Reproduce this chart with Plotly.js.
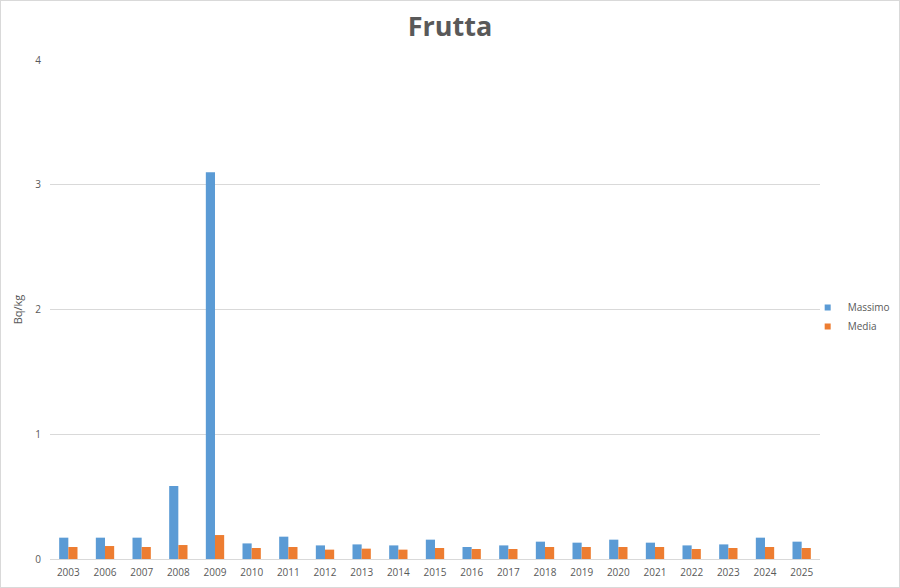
<!DOCTYPE html>
<html>
<head>
<meta charset="utf-8">
<script src="https://cdn.plot.ly/plotly-3.0.1.min.js"></script>
<style>
html,body{margin:0;padding:0;background:#fff;}
#chart{width:900px;height:588px;}
#frame{position:fixed;left:0;top:0;width:898px;height:586px;border:1px solid #d9d9d9;pointer-events:none;}
</style>
</head>
<body>
<div id="chart"></div>
<div id="frame"></div>
<script>
const years = ["2003","2006","2007","2008","2009","2010","2011","2012","2013","2014","2015","2016","2017","2018","2019","2020","2021","2022","2023","2024","2025"];
const massimo = [0.171,0.171,0.171,0.585,3.10,0.125,0.179,0.109,0.117,0.109,0.155,0.096,0.109,0.139,0.131,0.155,0.131,0.109,0.117,0.171,0.139];
const media = [0.096,0.104,0.096,0.112,0.192,0.088,0.096,0.075,0.083,0.075,0.088,0.080,0.080,0.096,0.096,0.096,0.096,0.080,0.088,0.096,0.088];
const seriesNames = ["Massimo","Media"];
const seriesColors = ["#5B9BD5","#ED7D31"];

const data = [
  {type:'bar', name:seriesNames[0], x:years, y:massimo, marker:{color:seriesColors[0]}, showlegend:false},
  {type:'bar', name:seriesNames[1], x:years, y:media, marker:{color:seriesColors[1]}, showlegend:false},
  {type:'scatter', mode:'markers', name:seriesNames[0], x:[null], y:[null], marker:{symbol:'square', size:6, color:seriesColors[0]}},
  {type:'scatter', mode:'markers', name:seriesNames[1], x:[null], y:[null], marker:{symbol:'square', size:6, color:seriesColors[1]}}
];
const layout = {
  width:900, height:588,
  paper_bgcolor:'#fff', plot_bgcolor:'#fff',
  margin:{l:50, r:80, t:60, b:29, autoexpand:false},
  title:{text:'<b>Frutta</b>', x:0.5, xanchor:'center', y:0.955, yanchor:'middle',
         font:{family:'Liberation Sans Narrow, Open Sans, sans-serif', size:27, color:'#595959'}},
  font:{family:'Open Sans, sans-serif', size:10, color:'#595959'},
  barmode:'group', bargap:0.5, bargroupgap:0,
  xaxis:{type:'category', showgrid:false, showline:false, ticks:'', tickfont:{size:10,color:'#595959'}, ticklabelstandoff:6},
  yaxis:{range:[0,4], dtick:1, showgrid:true, gridcolor:'#d9d9d9', zeroline:true, zerolinecolor:'#d9d9d9', zerolinewidth:1,
         ticks:'', ticklen:0, tickfont:{size:10,color:'#595959'}, ticklabelstandoff:8,
         title:{text:'Bq/kg', font:{size:11,color:'#595959'}, standoff:10}},
  legend:{x:0.984, xanchor:'left', y:0.485, yanchor:'middle', font:{size:10,color:'#595959'}, itemwidth:30, tracegroupgap:0,
          bgcolor:'rgba(0,0,0,0)'},
  showlegend:true
};
Plotly.newPlot('chart', data, layout, {staticPlot:true, displayModeBar:false});
</script>
</body>
</html>
